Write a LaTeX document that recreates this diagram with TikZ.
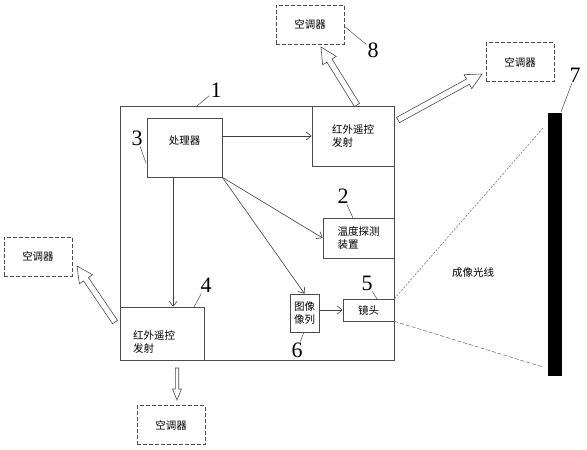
\documentclass[tikz,border=0pt]{standalone}
\usepackage{fontspec}
\setmainfont{Liberation Serif}
\newfontfamily\cjk{Noto Sans CJK SC}
\usetikzlibrary{arrows.meta, calc, positioning}

\newcommand\hollowarrow[5]{%
  \coordinate (hb) at ($(#2)!#5!(#1)$);
  \draw[hollow] ($(#1)!#3!90:(#2)$) -- ($(hb)!#3!90:(#2)$) -- ($(hb)!#4!90:(#2)$) -- (#2)
    -- ($(hb)!#4!-90:(#2)$) -- ($(hb)!#3!-90:(#2)$) -- ($(#1)!#3!-90:(#2)$) -- cycle;
}

\tikzset{
  box/.style={draw=black!70, line width=0.7pt, inner sep=0pt, font=\cjk\fontsize{10.5}{13}\selectfont},
  acbox/.style={box, dash pattern=on 4pt off 2pt, minimum width=68pt, minimum height=39pt},
  arr/.style={draw=black!75, line width=0.6pt, -{Straight Barb[length=5pt, width=8pt]}},
  hollow/.style={draw=black!70, line width=0.6pt, fill=white},
  leader/.style={draw=black!70, line width=0.5pt},
  num/.style={inner sep=1pt, font=\fontsize{22}{22}\selectfont},
  ray/.style={draw=black!60, line width=0.5pt},
}

\begin{document}
\begin{tikzpicture}[x=1pt, y=-1pt]
  \useasboundingbox (0,0) rectangle (587,450);

  \node[box, minimum width=274pt, minimum height=254pt] (main) at (257,233) {};
  \node[box, minimum width=75pt, minimum height=59pt, text depth=14pt] (cpu) at (184.5,147.5) {处理器};
  \node[box, align=left, minimum width=82pt, minimum height=60pt] (irtop) at (353,136) {红外遥控\\发射};
  \node[box, align=left, minimum width=71pt, minimum height=40pt] (temp) at (358.5,238) {温度探测\\装置};
  \node[box, minimum width=51pt, minimum height=22pt] (lens) at (368.5,310) {镜头};
  \node[box, align=left, minimum width=29pt, minimum height=38pt] (sensor) at (304.5,313) {图像\\像列};
  \node[box, align=left, text width=58pt, minimum width=84pt, minimum height=53pt] (irleft) at (162,333.5) {\rule{0pt}{25pt}红外遥控\\发射};

  \node[fill=black, inner sep=0pt, minimum width=14pt, minimum height=263pt] (screen) at (555,244.5) {};

  \node[acbox] (actop) at (310,24.5) {空调器};
  \node[acbox] (acright) at (520,62) {空调器};
  \node[acbox] (acleft) at (38,256.5) {空调器};
  \node[acbox] (acbottom) at (171,425) {空调器};

  \coordinate (cpudown) at ($(cpu.south west)!0.35!(cpu.south east)$);
  \draw[arr] (cpu.east |- irtop.west) -- (irtop.west);
  \draw[arr] (cpudown) -- (cpudown |- irleft.north);
  \draw[arr] (cpu.south east) -- (temp.west);
  \draw[arr] (cpu.south east) -- (sensor.north);
  \draw[arr] (sensor.east |- lens.west) -- (lens.west);

  \coordinate (rayhi) at (543,128);
  \coordinate (raylo) at (543,367);
  \draw[ray, dash pattern=on 2pt off 1.5pt] (lens.north east) -- (rayhi);
  \draw[ray, dash pattern=on 4pt off 2pt] (lens.south east) -- (raylo);
  \node[box, draw=none] (raylabel) at (473,273) {成像光线};

  \coordinate (t8) at (357,105);
  \coordinate (h8) at (321,47);
  \coordinate (tr) at (398,120);
  \coordinate (hr) at (482,74);
  \coordinate (tl) at (115,322);
  \coordinate (hl) at (77,266);
  \coordinate (tb) at (177,368);
  \coordinate (hbot) at (177,400);
  \hollowarrow{t8}{h8}{3pt}{8pt}{16pt}
  \hollowarrow{tr}{hr}{3pt}{8pt}{16pt}
  \hollowarrow{tl}{hl}{3pt}{8pt}{16pt}
  \hollowarrow{tb}{hbot}{1.7pt}{4.5pt}{11pt}

  \foreach \n/\p/\q in {1/{216,90}/{197,106}, 2/{343,196}/{353,218}, 3/{137,138}/{146,163},
      4/{206,285}/{194,307}, 5/{367,283}/{377,299}, 6/{297,350}/{304,332},
      7/{575,75}/{561,112}, 8/{373,50}/{344,26}} {
    \node[num] (num\n) at (\p) {\n};
    \coordinate (end\n) at (\q);
    \draw[leader] (end\n) -- (num\n);
  }
\end{tikzpicture}
\end{document}
